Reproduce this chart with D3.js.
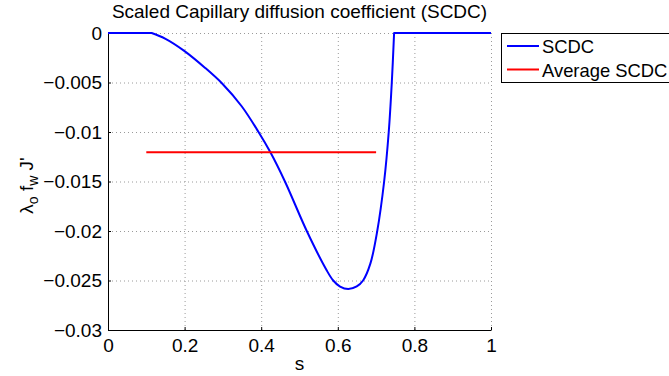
<!DOCTYPE html>
<html><head><meta charset="utf-8">
<script src="https://cdn.jsdelivr.net/npm/d3@7"></script>
<style>
html,body{margin:0;padding:0;background:#fff;}
svg{display:block;font-family:"Liberation Sans",Arial,Helvetica,sans-serif;}
</style></head>
<body>
<svg id="chart" width="669" height="376"></svg>
<script>
// ---- data ----
const sValues = [0, 0.114, 0.149, 0.199, 0.253, 0.298, 0.349, 0.393, 0.424, 0.462, 0.519, 0.5705, 0.588, 0.606, 0.6275, 0.6495, 0.666, 0.685, 0.703, 0.721, 0.733, 0.741, 0.747, 1];
const scdcValues = [0, 0, -0.00056, -0.0018, -0.0035, -0.0051, -0.0074, -0.01, -0.01205, -0.015, -0.02, -0.02394, -0.025, -0.02562, -0.02586, -0.0256, -0.025, -0.0233, -0.02, -0.015, -0.01, -0.005, 0, 0];
const avgS = [0.1, 0.7];
const avgValues = [-0.01205, -0.01205];
const xTicks = [0, 0.2, 0.4, 0.6, 0.8, 1];
const yTicks = [0, -0.005, -0.01, -0.015, -0.02, -0.025, -0.03];
const seriesNames = ["SCDC", "Average SCDC"];
const seriesColors = ["#0000ff", "#ff0000"];
const titleText = "Scaled Capillary diffusion coefficient (SCDC)";
const xLabel = "s";

// ---- layout ----
const svg = d3.select("#chart");
const L = 108, R = 491, T = 33, B = 330;
const x = d3.scaleLinear().domain([0, 1]).range([L, R]);
const y = d3.scaleLinear().domain([-0.03, 0]).range([B, T]);
const fs = 19;

const fmtY = v => v === 0 ? "0" : "\u2212" + String(+Math.abs(v).toFixed(3));
const fmtX = v => String(+v.toFixed(1));

// grid
const grid = svg.append("g").attr("stroke", "#9a9a9a").attr("stroke-width", 1).attr("stroke-dasharray", "1,3");
xTicks.filter(v => v !== 0).forEach(v => {
  grid.append("line").attr("x1", x(v) + 0.5).attr("x2", x(v) + 0.5).attr("y1", T).attr("y2", B);
});
yTicks.filter(v => v !== -0.03).forEach(v => {
  grid.append("line").attr("x1", L).attr("x2", R).attr("y1", y(v) + 0.5).attr("y2", y(v) + 0.5);
});

// axes
const xAxis = d3.axisBottom(x).tickValues(xTicks).tickSizeInner(-3).tickSizeOuter(0).tickPadding(9).tickFormat(fmtX);
const yAxis = d3.axisLeft(y).tickValues(yTicks).tickSizeInner(-3).tickSizeOuter(0).tickPadding(6).tickFormat(fmtY);
const gx = svg.append("g").attr("transform", `translate(0,${B})`).call(xAxis);
const gy = svg.append("g").attr("transform", `translate(${L},0)`).call(yAxis);
[gx, gy].forEach(g => {
  g.select(".domain").attr("stroke", "#000");
  g.selectAll(".tick line").attr("stroke", "#000");
  g.selectAll("text").attr("fill", "#000").style("font-size", fs + "px").style("font-family", "Liberation Sans, Arial, sans-serif");
});

// SCDC line: flat zero parts straight, curved interior smooth
const pts = sValues.map((s, i) => [s, scdcValues[i]]);
const firstNZ = pts.findIndex(p => p[1] !== 0);
let lastNZ = -1; pts.forEach((p, i) => { if (p[1] !== 0) lastNZ = i; });
const linear = d3.line().x(d => x(d[0])).y(d => y(d[1]));
const smooth = d3.line().x(d => x(d[0])).y(d => y(d[1])).curve(d3.curveCatmullRom.alpha(0.5));
const dPath = linear(pts.slice(0, firstNZ)) + smooth(pts.slice(firstNZ - 1, lastNZ + 2)).replace(/^M/, "L") + linear(pts.slice(lastNZ + 1)).replace(/^M/, "L");
svg.append("path").attr("d", dPath).attr("fill", "none").attr("stroke", seriesColors[0]).attr("stroke-width", 2).attr("stroke-linejoin", "round");
svg.append("path").datum(avgS.map((s, i) => [s, avgValues[i]]))
  .attr("d", linear).attr("fill", "none").attr("stroke", seriesColors[1]).attr("stroke-width", 2);

// title
svg.append("text").attr("x", (L + R) / 2).attr("y", 18).attr("text-anchor", "middle")
  .style("font-size", fs + "px").text(titleText);
// x label
svg.append("text").attr("x", (L + R) / 2).attr("y", 370).attr("text-anchor", "middle")
  .style("font-size", fs + "px").text(xLabel);
// y label
const yl = svg.append("text").attr("transform", `translate(33,${(T + B) / 2 + 4}) rotate(-90)`)
  .attr("text-anchor", "middle").style("font-size", fs + "px");
yl.append("tspan").text("\u03BB");
yl.append("tspan").attr("dy", 5).style("font-size", "14px").text("o");
yl.append("tspan").attr("dy", -5).text(" f");
yl.append("tspan").attr("dy", 5).style("font-size", "14px").text("w");
yl.append("tspan").attr("dy", -5).text(" J'");

// legend
const lg = svg.append("g");
lg.append("rect").attr("x", 501.5).attr("y", 33.5).attr("width", 220).attr("height", 49)
  .attr("fill", "#fff").attr("stroke", "#000").attr("stroke-width", 1);
seriesNames.forEach((n, i) => {
  const yy = 46 + i * 23.5;
  lg.append("line").attr("x1", 507).attr("x2", 539).attr("y1", yy).attr("y2", yy)
    .attr("stroke", seriesColors[i]).attr("stroke-width", 2);
  lg.append("text").attr("x", 542).attr("y", yy + 7).style("font-size", "18.4px").text(n);
});
</script>
</body></html>
